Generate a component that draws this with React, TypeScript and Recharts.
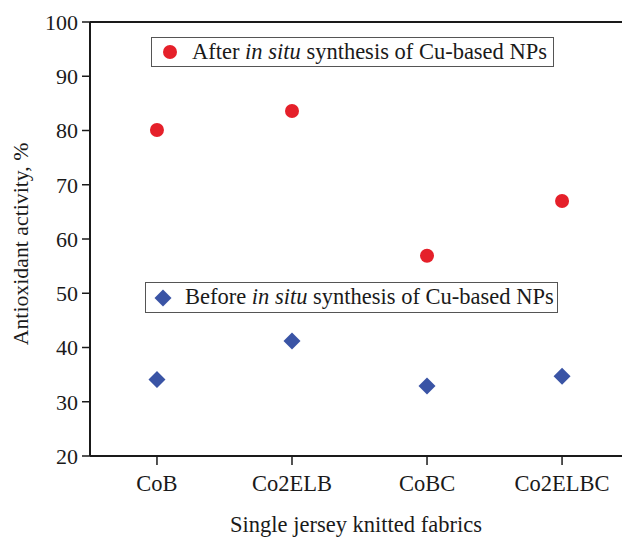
import { Label, ReferenceLine, Scatter, ScatterChart, XAxis, YAxis } from "recharts";

const fabrics = ["CoB", "Co2ELB", "CoBC", "Co2ELBC"];
const afterSynthesis = [80.1, 83.6, 56.9, 67.0];
const beforeSynthesis = [34.1, 41.2, 32.9, 34.7];
const yTicks = [20, 30, 40, 50, 60, 70, 80, 90, 100];

const afterData = fabrics.map((name, i) => ({ x: i, y: afterSynthesis[i], name }));
const beforeData = fabrics.map((name, i) => ({ x: i, y: beforeSynthesis[i], name }));

const FONT = "'Liberation Serif', 'Times New Roman', serif";
const FS = 22.5;
const RED = "#e5202a";
const BLUE = "#3a54a5";
const INK = "#1a1a1a";

function RedDot({ cx, cy }: { cx?: number; cy?: number }) {
  if (cx == null || cy == null) return null;
  return <circle cx={cx} cy={cy} r={7} fill={RED} />;
}

function BlueDiamond({ cx, cy }: { cx?: number; cy?: number }) {
  if (cx == null || cy == null) return null;
  const s = 8.5;
  return <polygon points={`${cx},${cy - s} ${cx + s},${cy} ${cx},${cy + s} ${cx - s},${cy}`} fill={BLUE} />;
}

// rotated y title, drawn by hand so it can sit a little below the axis middle
function YTitle({ viewBox }: { viewBox?: { x: number; y: number; width: number; height: number } }) {
  if (!viewBox) return null;
  const cx = 21;
  const cy = viewBox.y + viewBox.height / 2 + 5;
  return (
    <text
      x={cx}
      y={cy}
      transform={`rotate(-90, ${cx}, ${cy})`}
      textAnchor="middle"
      dominantBaseline="central"
      fill={INK}
      fontFamily={FONT}
      fontSize={21.8}
    >
      Antioxidant activity, %
    </text>
  );
}

function LegendBox({
  top,
  left,
  width,
  height,
  marker,
  word,
}: {
  top: number;
  left: number;
  width: number;
  height: number;
  marker: "dot" | "diamond";
  word: string;
}) {
  return (
    <div
      style={{
        position: "absolute",
        top,
        left,
        width,
        height,
        border: "1px solid #555",
        background: "#fff",
        display: "flex",
        alignItems: "center",
        fontFamily: FONT,
        fontSize: FS,
        color: INK,
        boxSizing: "border-box",
        whiteSpace: "nowrap",
      }}
    >
      {marker === "dot" ? (
        <span style={{ width: 14, height: 14, borderRadius: "50%", background: RED, marginLeft: 11, marginRight: 15 }} />
      ) : (
        <span style={{ width: 12, height: 12, background: BLUE, transform: "rotate(45deg)", marginLeft: 11, marginRight: 16 }} />
      )}
      <span style={{ lineHeight: 1 }}>
        {word} <i>in situ</i> synthesis of Cu-based NPs
      </span>
    </div>
  );
}

export default function App() {
  return (
    <div style={{ position: "absolute", left: 0, top: 0, width: 622, height: 541, background: "#fff" }}>
      <ScatterChart width={622} height={541} margin={{ top: 22, right: 0, left: 0, bottom: 0 }}>
        <XAxis
          type="number"
          dataKey="x"
          domain={[-0.496, 3.444]}
          ticks={[0, 1, 2, 3]}
          tickFormatter={(v: number) => fabrics[v] ?? ""}
          height={85}
          axisLine={{ stroke: INK, strokeWidth: 2 }}
          tickLine={{ stroke: INK, strokeWidth: 1.5 }}
          tickSize={9}
          tickMargin={10}
          tick={{ fill: INK, fontFamily: FONT, fontSize: FS }}
          allowDataOverflow
        >
          <Label
            value="Single jersey knitted fabrics"
            position="insideBottom"
            offset={9}
            style={{ fill: INK, fontFamily: FONT, fontSize: FS }}
          />
        </XAxis>
        <YAxis
          type="number"
          dataKey="y"
          domain={[20, 100]}
          ticks={yTicks}
          width={90}
          axisLine={{ stroke: INK, strokeWidth: 2 }}
          tickLine={{ stroke: INK, strokeWidth: 1.5 }}
          tickSize={8}
          tickMargin={4}
          tick={{ fill: INK, fontFamily: FONT, fontSize: 22 }}
        >
          <Label content={<YTitle />} />
        </YAxis>
        <ReferenceLine y={100} stroke={INK} strokeWidth={2} />
        <Scatter data={afterData} shape={<RedDot />} isAnimationActive={false} />
        <Scatter data={beforeData} shape={<BlueDiamond />} isAnimationActive={false} />
      </ScatterChart>
      <LegendBox top={37} left={151} width={403} height={30} marker="dot" word="After" />
      <LegendBox top={282} left={145} width={413} height={31} marker="diamond" word="Before" />
    </div>
  );
}
